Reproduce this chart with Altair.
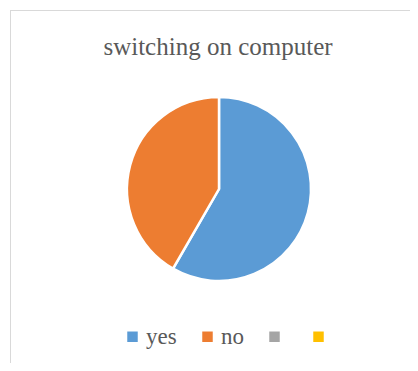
import altair as alt
import pandas as pd

categories = ["yes", "no"]
values = [7, 5]
legend_domain = ["yes", "no", "3", "4"]
colors = ["#5B9BD5", "#ED7D31", "#A5A5A5", "#FFC000"]
title_text = "switching on computer"

df = pd.DataFrame({"answer": categories, "value": values, "order": [0, 1]})

W, H = 402, 355

pie = alt.Chart(df).mark_arc(radius=92, stroke="white", strokeWidth=2.5).encode(
    theta=alt.Theta("value:Q", stack=True),
    order=alt.Order("order:Q"),
    color=alt.Color(
        "answer:N",
        scale=alt.Scale(domain=legend_domain, range=colors),
        legend=alt.Legend(
            title=None,
            orient="none",
            legendX=113,
            legendY=317,
            direction="horizontal",
            symbolType="square",
            symbolSize=110,
            symbolStrokeWidth=0,
            labelFont="Liberation Serif",
            labelFontSize=23,
            labelColor="#595959",
            labelOffset=2,
            columnPadding=19,
            labelExpr="datum.label == 'yes' || datum.label == 'no' ? datum.label : ''",
        ),
    ),
    x=alt.value(211),
    y=alt.value(181),
)

title = alt.Chart(pd.DataFrame({"t": [title_text]})).mark_text(
    font="Liberation Serif", fontSize=25, color="#595959", baseline="alphabetic", align="center"
).encode(text="t:N", x=alt.value(210), y=alt.value(47))

frame = pd.DataFrame({"a": [0]})
top_rule = alt.Chart(frame).mark_rule(color="#D9D9D9", strokeWidth=1).encode(
    x=alt.value(2), x2=alt.value(W), y=alt.value(2.5)
)
left_rule = alt.Chart(frame).mark_rule(color="#D9D9D9", strokeWidth=1).encode(
    x=alt.value(2.5), y=alt.value(2), y2=alt.value(H)
)

chart = alt.layer(top_rule, left_rule, pie, title).properties(
    width=W, height=H, padding=0, autosize=alt.AutoSizeParams(type="none")
).configure_view(stroke=None)

chart.save("out.html", embed_options={"renderer": "svg", "actions": False})
